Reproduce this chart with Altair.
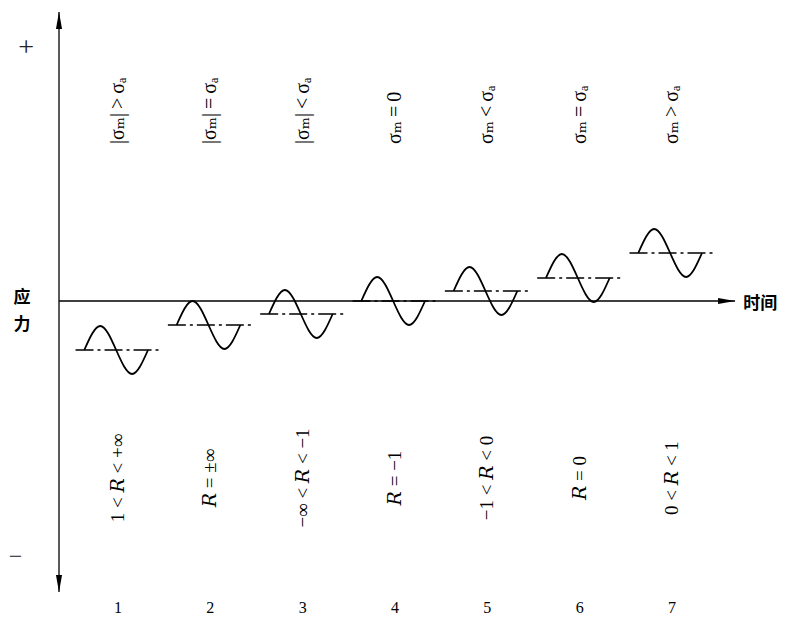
import altair as alt
import pandas as pd

# ---- data ----
cases = [1, 2, 3, 4, 5, 6, 7]
case_labels = ["1", "2", "3", "4", "5", "6", "7"]
mean_level = [-49, -24, -13, 0, 10, 23, 48]      # mean stress (0 = time axis)
amplitude = [24, 24, 24, 24, 24, 24, 24]          # stress amplitude
top_labels = ["|σₘ|\u2009>\u2009σₐ", "|σₘ|\u2009=\u2009σₐ", "|σₘ|\u2009<\u2009σₐ", "σₘ\u2009=\u20090",
              "σₘ\u2009<\u2009σₐ", "σₘ\u2009=\u2009σₐ", "σₘ\u2009>\u2009σₐ"]
bottom_labels = ["1 < 𝑅 < +∞", "𝑅 = ±∞", "−∞ < 𝑅 < −1", "𝑅 = −1", "−1 < 𝑅 < 0", "𝑅 = 0", "0 < 𝑅 < 1"]
cycle_phase = [0.0, 0.25, 0.5, 0.75, 1.0]
cycle_shape = [0, 1, 0, -1, 0]

# geometry of the schematic (in scale units)
period = 0.69
mean_half = 0.46
x_axis = 0.361
x_end = 7.683
y_top = 289
y_bottom = -291
arrow_len = 17
col_px = 92.33

W, H = 771, 608
X = alt.Scale(domain=[-0.1914, -0.1914 + W / col_px], nice=False, zero=False)
Y = alt.Scale(domain=[-315, 293], nice=False, zero=False)

def xq(f="x"):
    return alt.X(f"{f}:Q", scale=X, axis=None)

def yq(f="y"):
    return alt.Y(f"{f}:Q", scale=Y, axis=None)

# waves
wave_rows = []
for c, m, a in zip(cases, mean_level, amplitude):
    for p, s in zip(cycle_phase, cycle_shape):
        wave_rows.append({"case": c, "x": c - 0.02 + (p - 0.5) * period, "y": m + a * s})
waves = pd.DataFrame(wave_rows)

means = pd.DataFrame({"x": [c - mean_half for c in cases],
                      "x2": [c + mean_half for c in cases],
                      "y": mean_level})

labels = pd.DataFrame({"x": cases, "top": top_labels, "bottom": bottom_labels, "num": case_labels})

axes_v = pd.DataFrame({"x": [x_axis], "y": [y_top], "y2": [y_bottom]})
axes_h = pd.DataFrame({"x": [x_axis], "x2": [x_end], "y": [0]})

arrows = pd.DataFrame({
    "x": [x_axis, x_axis, x_end - arrow_len / 2 / col_px],
    "y": [y_top - arrow_len / 2, y_bottom + arrow_len / 2, 0],
    "shape": ["M0,-1L0.36,1L-0.36,1Z", "M0,1L0.36,-1L-0.36,-1Z", "M1,0L-1,-0.36L-1,0.36Z"],
})

plus = pd.DataFrame({"x": [0.004], "y": [253], "t": ["+"]})
minus = pd.DataFrame({"x": [-0.11], "y": [-256], "t": ["−"]})
ylab = pd.DataFrame({"x": [-0.04, -0.04], "y": [3, -24], "t": ["应", "力"]})
xlab = pd.DataFrame({"x": [7.955], "y": [-3], "t": ["时间"]})

vline = alt.Chart(axes_v).mark_rule(color="black", strokeWidth=1.3).encode(x=xq(), y=yq(), y2="y2:Q")
hline = alt.Chart(axes_h).mark_rule(color="black", strokeWidth=1.3).encode(x=xq(), x2="x2:Q", y=yq())
heads = alt.Chart(arrows).mark_point(filled=True, color="black", opacity=1, size=289, strokeWidth=0).encode(
    x=xq(), y=yq(), shape=alt.Shape("shape:N", scale=None))

wave_lines = alt.Chart(waves).mark_line(interpolate="natural", color="black", strokeWidth=1.8).encode(
    x=xq(), y=yq(), detail="case:N")
mean_lines = alt.Chart(means).mark_rule(color="black", strokeWidth=1.3, strokeDash=[18, 4, 3, 4]).encode(
    x=xq(), x2="x2:Q", y=yq())

top_text = alt.Chart(labels).mark_text(angle=270, align="left", baseline="middle", fontSize=20,
                                       font="Liberation Serif, DejaVu Serif", color="black").encode(
    x=xq(), y=alt.Y("yv:Q", scale=Y, axis=None), text="top:N").transform_calculate(yv="157")
bot_text = alt.Chart(labels).mark_text(angle=270, align="center", baseline="middle", fontSize=19,
                                       font="Liberation Serif, DejaVu Serif", color="black").encode(
    x=xq(), y=alt.Y("yv:Q", scale=Y, axis=None), text="bottom:N").transform_calculate(yv="-177")
num_text = alt.Chart(labels).mark_text(align="center", baseline="middle", fontSize=16,
                                       font="Liberation Serif", color="black").encode(
    x=xq(), y=alt.Y("yv:Q", scale=Y, axis=None), text="num:N").transform_calculate(yv="-307")

plus_text = alt.Chart(plus).mark_text(align="center", baseline="middle", fontSize=28,
                                      font="Liberation Serif", color="#222").encode(x=xq(), y=yq(), text="t:N")
minus_text = alt.Chart(minus).mark_text(align="center", baseline="middle", fontSize=24,
                                        font="Liberation Serif", color="#222").encode(x=xq(), y=yq(), text="t:N")
ylab_text = alt.Chart(ylab).mark_text(align="center", baseline="middle", fontSize=17, fontWeight="bold",
                                      font="Noto Sans CJK SC", color="black").encode(x=xq(), y=yq(), text="t:N")
xlab_text = alt.Chart(xlab).mark_text(align="center", baseline="middle", fontSize=17, fontWeight="bold",
                                      font="Noto Sans CJK SC", color="black").encode(x=xq(), y=yq(), text="t:N")

chart = alt.layer(vline, hline, heads, mean_lines, wave_lines, top_text, bot_text, num_text,
                  plus_text, minus_text, ylab_text, xlab_text).properties(
    width=W, height=H, padding=0, autosize=alt.AutoSizeParams(type="none")
).configure_view(stroke=None)

chart.save("out.html", embed_options={"renderer": "svg", "actions": False})
